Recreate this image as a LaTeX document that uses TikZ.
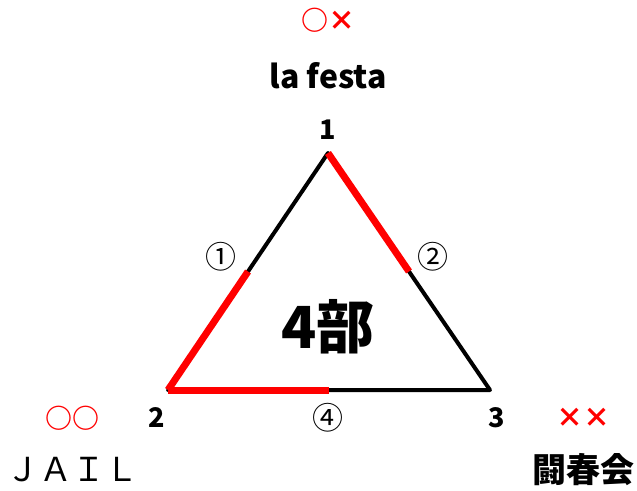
\documentclass[tikz,border=0pt]{standalone}
\usepackage{fontspec}
\setmainfont{Noto Sans CJK JP}
\usetikzlibrary{calc}
\definecolor{ink}{HTML}{000000}
\definecolor{mark}{HTML}{FF0000}
\tikzset{
  side/.style={draw=ink,line width=4pt,line join=round},
  red side/.style={draw=mark,line width=7pt},
  vertex label/.style={font=\fontsize{27}{27}\selectfont\bfseries,text=ink,inner sep=0pt},
  edge label/.style={font=\fontsize{31}{31}\selectfont,text=ink,inner sep=0pt},
  team/.style={font=\fontsize{33}{33}\selectfont,text=ink,inner sep=0pt},
  result/.style={font=\fontsize{27}{27}\selectfont\bfseries,text=mark,inner sep=0pt}
}

\begin{document}
\begin{tikzpicture}[x=1pt,y=-1pt]
  \useasboundingbox (0,0) rectangle (637,490);

  % corners of the league triangle
  \coordinate (v1) at (328,153);
  \coordinate (v2) at (168,390);
  \coordinate (v3) at (490,390);
  \coordinate (m12) at ($(v1)!0.5!(v2)$);
  \coordinate (m13) at ($(v1)!0.5!(v3)$);
  \coordinate (m23) at ($(v2)!0.5!(v3)$);

  \draw[side] (v1) -- (v2) -- (v3) -- cycle;
  \draw[red side] (v1) -- (m13);
  \draw[red side] (v2) -- (m12);
  \draw[red side] (v2) -- (m23);

  \node[vertex label] (n1) at (328,130) {1};
  \node[vertex label] (n2) at (157,418) {2};
  \node[vertex label] (n3) at (497,418) {3};

  \node[edge label] (g1) at (221,257) {①};
  \node[edge label] (g2) at (433,257) {②};
  \node[edge label] (g4) at (328,418) {④};

  \node[font=\fontsize{58}{58}\selectfont\bfseries,inner sep=0pt] (title) at (328,327) {4部};

  % teams and their results
  \node[result] (r1) at (328,20) {○×};
  \node[team,font=\fontsize{32}{32}\selectfont\bfseries] (t1) at (328,76) {la festa};
  \node[result] (r2) at (72,418) {○○};
  \node[team] (t2) at (72,470) {ＪＡＩＬ};
  \node[result] (r3) at (583,418) {××};
  \node[team,font=\fontsize{34}{34}\selectfont\bfseries] (t3) at (583,470) {闘春会};
\end{tikzpicture}
\end{document}
